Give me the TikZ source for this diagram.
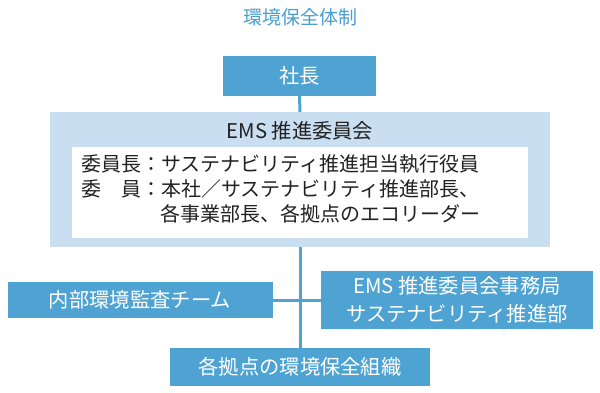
\documentclass[tikz,border=0pt]{standalone}
\usepackage{fontspec}
\setmainfont{Noto Sans CJK JP}
\definecolor{boxblue}{HTML}{4FA3D2}
\definecolor{paleblue}{HTML}{C9DEF0}
\definecolor{titleblue}{HTML}{4A9FD0}
\definecolor{bodytext}{HTML}{222222}
\begin{document}
\begin{tikzpicture}[x=1pt,y=-1pt,
  bluebox/.style={fill=boxblue, draw=none, text=white, inner sep=0pt, align=center,
    font=\fontsize{20.3}{28}\selectfont},
  bodyline/.style={anchor=west, inner sep=0pt, text=bodytext, font=\fontsize{20}{25}\selectfont},
  link/.style={draw=boxblue, line width=3pt}]
\useasboundingbox (0,0) rectangle (600,392);
\fill[white] (0,0) rectangle (600,392);
\node[text=titleblue, font=\fontsize{19}{22}\selectfont, inner sep=0pt] (title) at (300,17) {環境保全体制};
\node[bluebox, minimum width=153pt, minimum height=40pt] (shacho) at (299.5,75.5) {社長};
\node[fill=paleblue, inner sep=0pt, minimum width=500pt, minimum height=135pt] (ems) at (300,179.5) {};
\node[fill=white, inner sep=0pt, minimum width=456pt, minimum height=91pt] (inner) at (300,192.5) {};
\node[inner sep=0pt, text=bodytext, font=\fontsize{20.3}{24}\selectfont] (emstitle) at (300,131) {EMS 推進委員会};
\node[bodyline] (l1) at (81,164) {委員長：サステナビリティ推進担当執行役員};
\node[bodyline] (l2) at (81,189) {委\hspace{1em}員：本社／サステナビリティ推進部長、};
\node[bodyline] (l3) at (160,214) {各事業部長、各拠点のエコリーダー};
\node[bluebox, minimum width=265pt, minimum height=36pt] (audit) at (140,300) {内部環境監査チーム};
\node[bluebox, minimum width=272pt, minimum height=58pt] (office) at (457,300) {EMS 推進委員会事務局\\サステナビリティ推進部};
\node[bluebox, minimum width=260pt, minimum height=38pt] (sites) at (300,367) {各拠点の環境保全組織};
\draw[link] (shacho.south) -- (ems.north);
\draw[link] (ems.south) -- (sites.north);
\draw[link] (audit.east) -- (office.west);
\end{tikzpicture}
\end{document}
